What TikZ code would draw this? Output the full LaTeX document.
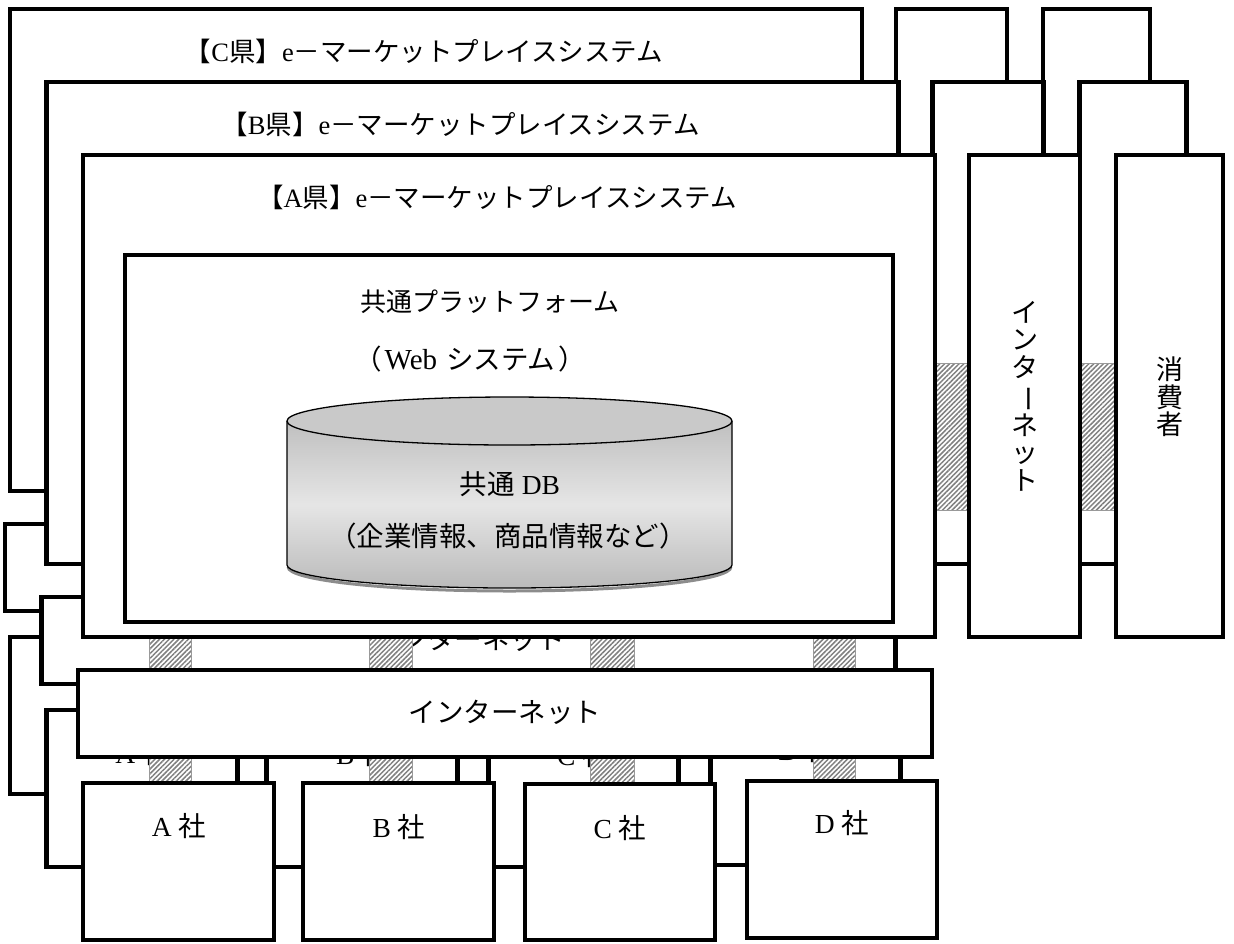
\documentclass[tikz,border=0pt]{standalone}
\usepackage{fontspec}
\usepackage{graphicx}
\setmainfont{Liberation Serif}
\newfontfamily\jp{Noto Sans CJK JP}
\usetikzlibrary{patterns.meta}
\tikzset{
  bx/.style={draw=black, line width=4.5pt, fill=white, inner sep=0pt, outer sep=0pt},
  hatch/.style={draw=black!40, line width=0.8pt, preaction={fill=white},
    pattern={Lines[angle=45,distance=3.4pt,line width=1.5pt]}, pattern color=black!50},
  lbl/.style={inner sep=0pt, font=\fontsize{27.5}{32}\selectfont},
  ttl/.style={inner sep=0pt, font=\fontsize{26.5}{32}\selectfont},
  vlbl/.style={inner sep=0pt, align=center, font=\jp\fontsize{27}{27.5}\selectfont},
  dbline/.style={line width=1.3pt, draw=black},
}
\newcommand\boxat[5]{\node[bx, minimum width={(#4)-(#2)}, minimum height={(#5)-(#3)}] (#1) at ({((#2)+(#4))/2},{((#3)+(#5))/2}) {};}
\begin{document}
\begin{tikzpicture}[x=1pt, y=-1pt]
\useasboundingbox (0,0) rectangle (1234,943);
\foreach \L/\s in {C/2,B/1,A/0}{
\begin{scope}[shift={(-36.5*\s,-73*\s)}]
  % hatched links
  \foreach \a/\b in {149/191,369/412,590/634,813/855}{
    \path[hatch] (\a,636) rectangle (\b,671);
    \path[hatch] (\a,756) rectangle (\b,783);
  }
  \path[hatch] (934,363) rectangle (970,510);
  \path[hatch] (1079,363) rectangle (1117,510);
  % system box
  \boxat{sys\L}{83}{155}{935}{637}
  \node[ttl] (title\L) at (497,197) {{\jp 【}\L{\jp 県】}e{\jp －マーケットプレイスシステム}};
  \boxat{plat\L}{125}{255}{893}{622}
  \ifnum\s=0
  \node[ttl, font=\jp\fontsize{26}{30}\selectfont] (platname) at (490,302) {共通プラットフォーム};
  \node[lbl] (platsub) at (470,359) {{\jp （}\hspace{3pt}{\fontsize{29}{32}\selectfont Web}\hspace{9pt}{\jp システム}\hspace{3pt}{\jp ）}};
  % database cylinder
  \draw[black!45, line width=3pt] (288,567) arc[start angle=180, end angle=360, x radius=221.5pt, y radius=24pt];
  \path[top color=black!25, bottom color=black!27, middle color=black!10]
    (287,421) -- (287,565) arc[start angle=180, end angle=360, x radius=222.5pt, y radius=23pt] -- (732,421) -- cycle;
  \draw[dbline] (287,421) -- (287,565) arc[start angle=180, end angle=360, x radius=222.5pt, y radius=23pt] -- (732,421);
  \draw[dbline, fill=black!21] (509.5,421) ellipse[x radius=222.5pt, y radius=24pt];
  \node[lbl] (dbname) at (510,484) {{\jp 共通} DB};
  \node[lbl] (dbsub) at (508,536) {\jp （企業情報、商品情報など）};
  \fi
  % right columns
  \boxat{vnet\L}{969}{155}{1080}{637}
  \boxat{cons\L}{1116}{155}{1223}{637}
  \ifnum\s=0
  \node[vlbl] (vnettext) at (1024.5,396) {イ\\ン\\タ\\\rotatebox[origin=c]{-90}{ー}\\ネ\\ッ\\ト};
  \node[vlbl] (constext) at (1169.5,397) {消\\費\\者};
  \fi
  % internet bar
  \boxat{net\L}{78}{670}{932}{757}
  \ifnum\s<2
  \node[lbl] (nettext\L) at (505,712) {\jp インターネット};
  \fi
  % companies
  \boxat{coA\L}{83}{783}{274}{940}
  \boxat{coB\L}{303}{783}{494}{940}
  \boxat{coC\L}{525}{784}{715}{940}
  \boxat{coD\L}{747}{781}{937}{938}
  \ifnum\s<2
  \node[lbl] (coAt\L) at (179,826) {A {\jp 社}};
  \node[lbl] (coBt\L) at (399,827) {B {\jp 社}};
  \node[lbl] (coCt\L) at (620,828) {C {\jp 社}};
  \node[lbl] (coDt\L) at (842,823) {D {\jp 社}};
  \fi
\end{scope}
}
\end{tikzpicture}
\end{document}
